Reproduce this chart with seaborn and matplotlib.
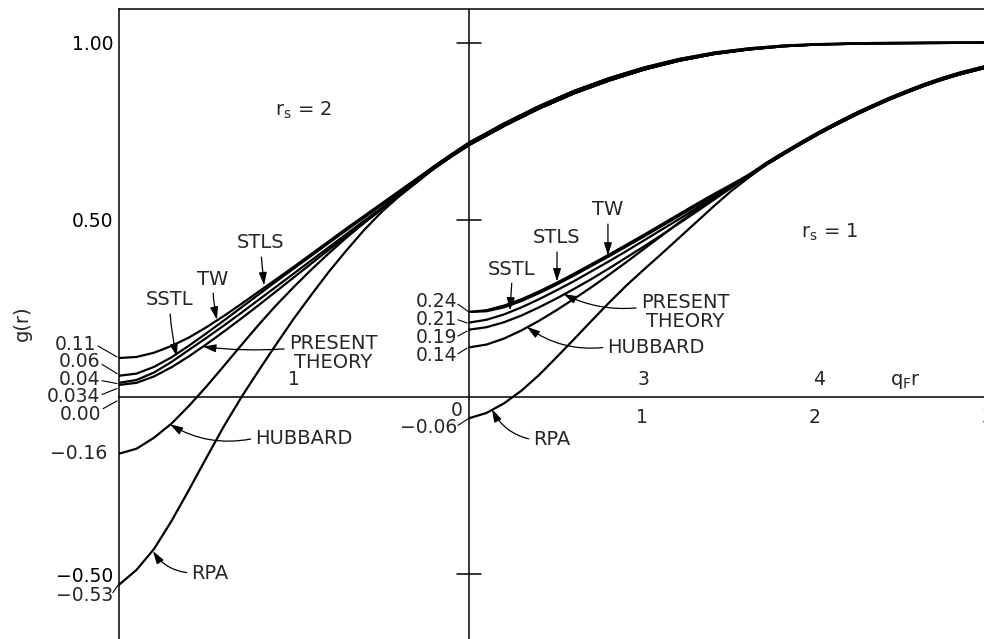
import matplotlib
matplotlib.use("Agg")
import matplotlib.pyplot as plt
import numpy as np
import pandas as pd
import seaborn as sns

# ---------------------------------------------------------------------------
# Pair-correlation function g(r) versus q_F r for two densities.
# r_s = 2 curves start at q_F r = 0; r_s = 1 curves are drawn on the same
# axes with their own origin shifted to the right.
# ---------------------------------------------------------------------------

# r_s = 2, region where the theories differ
x_head_rs2 = [0.0, 0.1, 0.2, 0.3, 0.4, 0.5, 0.6, 0.7, 0.8, 0.9,
              1.0, 1.1, 1.2, 1.3, 1.4, 1.5, 1.6, 1.7]
stls_rs2 = [0.11, 0.113, 0.125, 0.144, 0.168, 0.197, 0.229, 0.263, 0.298, 0.333,
            0.368, 0.404, 0.440, 0.476, 0.511, 0.546, 0.581, 0.616]
tw_rs2 = [0.06, 0.066, 0.085, 0.112, 0.145, 0.180, 0.216, 0.253, 0.290, 0.327,
          0.363, 0.399, 0.435, 0.471, 0.506, 0.541, 0.577, 0.612]
sstl_rs2 = [0.04, 0.048, 0.069, 0.099, 0.133, 0.167, 0.202, 0.238, 0.275, 0.312,
            0.349, 0.386, 0.423, 0.460, 0.497, 0.533, 0.572, 0.609]
present_rs2 = [0.034, 0.040, 0.058, 0.084, 0.115, 0.149, 0.185, 0.222, 0.260, 0.299,
               0.338, 0.377, 0.416, 0.454, 0.492, 0.530, 0.570, 0.608]
hubbard_rs2 = [-0.16, -0.146, -0.115, -0.075, -0.025, 0.030, 0.088, 0.147, 0.205, 0.260,
               0.311, 0.360, 0.406, 0.450, 0.491, 0.530, 0.569, 0.607]
rpa_rs2 = [-0.53, -0.488, -0.429, -0.350, -0.262, -0.171, -0.082, 0.000, 0.076, 0.150,
           0.222, 0.289, 0.354, 0.414, 0.471, 0.522, 0.566, 0.605]

# r_s = 2, common approach to g = 1
x_tail_rs2 = [1.8, 1.9, 2.0, 2.2, 2.4, 2.6, 2.8, 3.0, 3.2, 3.4, 3.6, 3.8, 4.0, 4.3, 4.6, 4.95]
tail_rs2_upper = [0.651, 0.685, 0.718, 0.772, 0.821, 0.864, 0.900, 0.930, 0.954, 0.972,
                  0.984, 0.992, 0.996, 0.999, 1.000, 1.000]
tail_rs2_lower = [0.645, 0.679, 0.711, 0.765, 0.814, 0.857, 0.893, 0.924, 0.949, 0.968,
                  0.981, 0.990, 0.995, 0.998, 0.999, 1.000]

# r_s = 1, region where the theories differ (q_F r from its own origin)
x_head_rs1 = [0.0, 0.1, 0.2, 0.3, 0.4, 0.5, 0.6, 0.7, 0.8, 0.9,
              1.0, 1.1, 1.2, 1.3, 1.4, 1.5, 1.6]
stls_rs1 = [0.24, 0.245, 0.258, 0.276, 0.298, 0.322, 0.348, 0.375, 0.402, 0.430,
            0.458, 0.487, 0.516, 0.545, 0.573, 0.600, 0.628]
tw_rs1 = [0.24, 0.242, 0.253, 0.271, 0.293, 0.317, 0.343, 0.370, 0.397, 0.425,
          0.453, 0.482, 0.511, 0.540, 0.569, 0.597, 0.626]
sstl_rs1 = [0.21, 0.218, 0.233, 0.253, 0.276, 0.301, 0.327, 0.355, 0.383, 0.412,
            0.442, 0.472, 0.502, 0.533, 0.564, 0.595, 0.625]
present_rs1 = [0.19, 0.197, 0.211, 0.230, 0.253, 0.278, 0.305, 0.333, 0.363, 0.394,
               0.425, 0.457, 0.490, 0.523, 0.557, 0.591, 0.624]
hubbard_rs1 = [0.14, 0.148, 0.165, 0.188, 0.215, 0.245, 0.277, 0.310, 0.345, 0.381,
               0.418, 0.455, 0.492, 0.528, 0.563, 0.595, 0.624]
rpa_rs1 = [-0.06, -0.045, -0.018, 0.018, 0.062, 0.112, 0.163, 0.215, 0.266, 0.315,
           0.360, 0.404, 0.449, 0.494, 0.539, 0.582, 0.620]

# r_s = 1, common approach to g = 1
x_tail_rs1 = [1.7, 1.8, 1.9, 2.0, 2.1, 2.2, 2.3, 2.4, 2.5, 2.6, 2.7, 2.8, 2.95]
tail_rs1_upper = [0.661, 0.691, 0.720, 0.748, 0.774, 0.799, 0.822, 0.844, 0.864,
                  0.883, 0.900, 0.915, 0.934]
tail_rs1_lower = [0.656, 0.686, 0.715, 0.743, 0.769, 0.794, 0.817, 0.839, 0.859,
                  0.878, 0.895, 0.910, 0.929]

# axis annotations
y_ticks = [-0.5, 0.5, 1.0]
y_tick_labels = ["\u22120.50", "0.50", "1.00"]
x_ticks_rs2 = [1, 3, 4]
x_ticks_rs1 = [1, 2, 3]

RS1_ORIGIN = 2.0  # where q_F r = 0 of the r_s = 1 curves sits on the axis

# ---------------------------------------------------------------------------
frames = []


def add_curve(name, xs, ys):
    frames.append(pd.DataFrame({"x": xs, "g": ys, "curve": name}))


for name, head, tail in [("STLS2", stls_rs2, tail_rs2_upper),
                         ("TW2", tw_rs2, tail_rs2_upper),
                         ("SSTL2", sstl_rs2, tail_rs2_lower),
                         ("PRESENT2", present_rs2, tail_rs2_lower),
                         ("HUBBARD2", hubbard_rs2, tail_rs2_lower),
                         ("RPA2", rpa_rs2, tail_rs2_lower)]:
    add_curve(name, list(x_head_rs2) + list(x_tail_rs2), list(head) + list(tail))

for name, head, tail in [("STLS1", stls_rs1, tail_rs1_upper),
                         ("TW1", tw_rs1, tail_rs1_upper),
                         ("SSTL1", sstl_rs1, tail_rs1_lower),
                         ("PRESENT1", present_rs1, tail_rs1_lower),
                         ("HUBBARD1", hubbard_rs1, tail_rs1_lower),
                         ("RPA1", rpa_rs1, tail_rs1_lower)]:
    xs = [RS1_ORIGIN + v for v in list(x_head_rs1) + list(x_tail_rs1)]
    add_curve(name, xs, list(head) + list(tail))

df = pd.concat(frames, ignore_index=True)

sns.set_theme(style="white")
plt.rcParams["font.family"] = ["DejaVu Sans"]
plt.rcParams["mathtext.fontset"] = "dejavusans"

FS = 14      # curve labels
FSN = 13.5   # numbers
LW = 1.1

fig = plt.figure(figsize=(9.84, 6.39), dpi=100)
ax = fig.add_axes([119 / 984, 0.0, 865 / 984, 1 - 9 / 639])

sns.lineplot(data=df, x="x", y="g", units="curve", estimator=None, sort=False,
             color="black", linewidth=1.6, legend=False, ax=ax)

ax.set_xlim(0, 865 / 175)
ax.set_ylim((397 - 639) / 354.3, (397 - 9) / 354.3)
ax.set_xlabel("")
ax.set_ylabel("")

# frame: left and top edges, zero line as the horizontal axis
for side in ["left", "top", "bottom"]:
    ax.spines[side].set_color("black")
    ax.spines[side].set_linewidth(LW)
ax.spines["right"].set_visible(False)
ax.spines["bottom"].set_position(("data", 0))

ax.set_yticks(y_ticks)
ax.set_yticklabels(y_tick_labels)
ax.tick_params(axis="y", direction="in", length=10, width=LW, pad=4,
               labelsize=FSN, color="black", labelcolor="black")
ax.set_xticks(x_ticks_rs2)
ax.set_xticklabels([""] * len(x_ticks_rs2))
ax.tick_params(axis="x", direction="inout", length=14, width=LW, color="black")

# second origin line with its crossing ticks
ax.axvline(RS1_ORIGIN, color="black", lw=LW)
for yt in y_ticks:
    ax.plot([RS1_ORIGIN - 0.07, RS1_ORIGIN + 0.07], [yt, yt], color="black", lw=LW)

# q_F r scale labels: r_s = 2 above the axis, r_s = 1 below
for v in x_ticks_rs2:
    ax.text(v, 0.05, str(v), ha="center", va="center", fontsize=FSN)
for v in x_ticks_rs1:
    ax.text(RS1_ORIGIN + v * 0.988, -0.059, str(v), ha="center", va="center",
            fontsize=FSN, clip_on=False)
ax.text(4.497, 0.045, r"q$_\mathregular{F}$r", ha="center", va="center", fontsize=FS)

fig.text(22 / 984, 1 - 323 / 639, "g(r)", rotation=90, ha="center", va="center",
         fontsize=FS)

ax.text(1.057, 0.81, r"r$_\mathregular{s}$ = 2", ha="center", va="center", fontsize=FS)
ax.text(4.063, 0.466, r"r$_\mathregular{s}$ = 1", ha="center", va="center", fontsize=FS)


def fmt(v):
    s = f"{abs(v):.3f}".rstrip("0")
    if len(s.split(".")[1]) < 2:
        s = f"{abs(v):.2f}"
    return ("\u2212" if v < 0 else "") + s


def value_label(text, pos, start, end):
    ax.text(pos[0], pos[1], text, ha="right", va="center", fontsize=FSN, clip_on=False)
    ax.plot([start[0], end[0]], [start[1], end[1]], color="black", lw=0.8,
            clip_on=False)


# starting values, r_s = 2
value_label(fmt(stls_rs2[0]), (-0.13, 0.149), (-0.12, 0.144), (-0.011, 0.113))
value_label(fmt(tw_rs2[0]), (-0.107, 0.099), (-0.097, 0.092), (-0.011, 0.066))
value_label(fmt(sstl_rs2[0]), (-0.107, 0.050), (-0.097, 0.046), (-0.011, 0.038))
value_label(fmt(present_rs2[0]), (-0.107, 0.001), (-0.097, 0.007), (-0.011, 0.024))
value_label("0.00", (-0.10, -0.048), (-0.091, -0.033), (-0.011, -0.011))
ax.text(-0.065, hubbard_rs2[0], fmt(hubbard_rs2[0]), ha="right", va="center",
        fontsize=FSN, clip_on=False)
value_label(fmt(rpa_rs2[0]), (-0.035, -0.559), (-0.035, -0.552), (0.0, rpa_rs2[0] + 0.003))

# starting values, r_s = 1
value_label(fmt(stls_rs1[0]), (1.931, 0.270), (1.937, 0.262), (1.994, 0.242))
value_label(fmt(sstl_rs1[0]), (1.931, 0.219), (1.937, 0.218), (1.989, 0.209))
value_label(fmt(present_rs1[0]), (1.931, 0.168), (1.937, 0.172), (1.989, 0.186))
value_label(fmt(hubbard_rs1[0]), (1.931, 0.117), (1.937, 0.122), (1.989, 0.138))
ax.text(1.966, -0.037, "0", ha="right", va="center", fontsize=FSN)
value_label(fmt(rpa_rs1[0]), (1.931, -0.087), (1.937, -0.080), (1.994, -0.062))


def curve_label(text, text_pos, tip, relpos=(0.5, 0.0), rad=0.0, **kw):
    ax.annotate(text, xy=tip, xytext=text_pos, ha="center", va="center",
                fontsize=FS, linespacing=0.95,
                arrowprops=dict(arrowstyle="-|>,head_length=0.55,head_width=0.17",
                                color="black", lw=0.9, mutation_scale=14,
                                shrinkA=1, shrinkB=0, relpos=relpos,
                                connectionstyle=f"arc3,rad={rad}"), **kw)


# r_s = 2 labels
curve_label("STLS", (0.811, 0.435), (0.829, 0.315))
curve_label("TW", (0.537, 0.333), (0.56, 0.218), rad=0.05)
curve_label("SSTL", (0.291, 0.274), (0.331, 0.114), rad=0.05)
curve_label("PRESENT\nTHEORY", (1.223, 0.124), (0.48, 0.142), relpos=(0.0, 0.62),
            rad=-0.05, multialignment="center")
curve_label("HUBBARD", (1.057, -0.116), (0.291, -0.077), relpos=(0.0, 0.5), rad=-0.2)
curve_label("RPA", (0.52, -0.497), (0.194, -0.435), relpos=(0.0, 0.5), rad=-0.25)

# r_s = 1 labels
curve_label("SSTL", (2.246, 0.361), (2.234, 0.244))
curve_label("STLS", (2.503, 0.449), (2.503, 0.326))
curve_label("TW", (2.794, 0.528), (2.794, 0.399))
curve_label("PRESENT\nTHEORY", (3.234, 0.240), (2.54, 0.291), relpos=(0.0, 0.62),
            rad=-0.15, multialignment="center")
curve_label("HUBBARD", (3.069, 0.141), (2.331, 0.198), relpos=(0.0, 0.5), rad=-0.2)
curve_label("RPA", (2.474, -0.121), (2.131, -0.034), relpos=(0.0, 0.5), rad=-0.25)

fig.savefig("out.png", dpi=100, facecolor="white")
